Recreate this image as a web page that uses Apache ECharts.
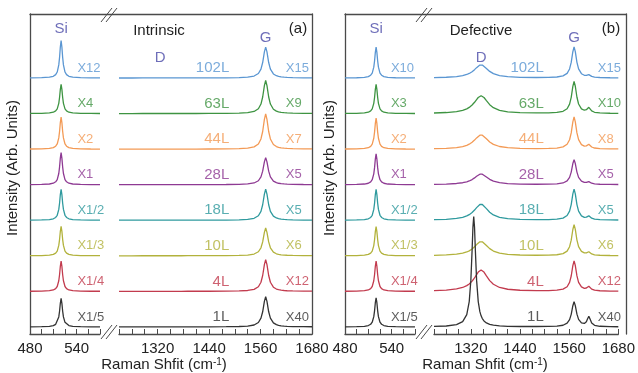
<!DOCTYPE html>
<html>
<head>
<meta charset="utf-8">
<script src="https://cdn.jsdelivr.net/npm/echarts@6.0.0/dist/echarts.min.js"></script>
<style>
html, body { margin: 0; padding: 0; background: #fff; }
#main { width: 638px; height: 373px; }
</style>
</head>
<body>
<div id="main"></div>
<script>
// layers, top trace first
const layers = ['102L', '63L', '44L', '28L', '18L', '10L', '4L', '1L']
const colors = ['#5a96d2', '#3e9442', '#f39a55', '#8e3a93', '#2f9a9e', '#b2b23c', '#c23b4e', '#333333']

// (a) intrinsic
const siMultA = ['X12', 'X4', 'X2', 'X1', 'X1/2', 'X1/3', 'X1/4', 'X1/5']
const gMultA = ['X15', 'X9', 'X7', 'X5', 'X5', 'X6', 'X12', 'X40']
const siHeightA = [1.05, 0.82, 0.9, 0.9, 0.87, 0.83, 0.85, 0.8]
const gHeightA = [0.87, 0.93, 0.99, 0.76, 0.87, 0.78, 0.89, 0.85]

// (b) defective
const siMultB = ['X10', 'X3', 'X2', 'X1', 'X1/2', 'X1/3', 'X1/4', 'X1/5']
const gMultB = ['X15', 'X10', 'X8', 'X5', 'X5', 'X6', 'X12', 'X40']
const siHeightB = [0.87, 0.82, 0.87, 0.87, 0.87, 0.82, 0.85, 0.82]
const dHeightB = [0.37, 0.5, 0.4, 0.3, 0.45, 0.4, 0.6, 0]
const dSharpB = [0, 0, 0, 0, 0, 0, 0, 3.1]
const gHeightB = [0.87, 0.9, 0.9, 0.7, 0.87, 0.87, 0.85, 0.7]
const d2HeightB = [0.06, 0.14, 0.1, 0.06, 0.09, 0.08, 0.11, 0.27]

// peak profiles (relative to peak top)
const siX = [480, 495, 505, 510, 513, 515, 517, 518, 519, 520, 521, 522, 523, 525, 527, 530, 535, 545, 558, 570]
const siShape = [0.003, 0.008, 0.021, 0.046, 0.09, 0.16, 0.35, 0.55, 0.83, 1, 0.83, 0.55, 0.35, 0.16, 0.09, 0.046, 0.021, 0.008, 0.003, 0.002]

const rightX = [1230, 1260, 1285, 1300, 1310, 1316, 1320, 1323, 1325, 1327, 1329, 1331, 1334, 1338, 1342, 1345, 1348, 1352, 1358, 1366, 1375, 1390, 1410, 1440, 1480, 1510, 1530, 1545, 1555, 1561, 1565, 1569, 1572, 1575, 1579, 1583, 1590, 1597, 1602, 1605, 1608, 1611, 1615, 1622, 1635, 1660, 1680]
const gShape = [0, 0, 0.001, 0.001, 0.001, 0.001, 0.001, 0.001, 0.001, 0.001, 0.001, 0.001, 0.001, 0.001, 0.001, 0.001, 0.001, 0.001, 0.001, 0.001, 0.001, 0.002, 0.002, 0.003, 0.006, 0.013, 0.027, 0.063, 0.145, 0.288, 0.5, 0.845, 1, 0.845, 0.5, 0.288, 0.131, 0.073, 0.052, 0.043, 0.036, 0.031, 0.026, 0.019, 0.012, 0.006, 0.004]
const dShape = [0.032, 0.058, 0.109, 0.179, 0.265, 0.344, 0.414, 0.477, 0.524, 0.576, 0.633, 0.692, 0.785, 0.9, 0.98, 1, 0.98, 0.9, 0.723, 0.5, 0.329, 0.179, 0.095, 0.047, 0.024, 0.016, 0.013, 0.011, 0.01, 0.009, 0.009, 0.008, 0.008, 0.008, 0.008, 0.008, 0.007, 0.007, 0.007, 0.006, 0.006, 0.006, 0.006, 0.006, 0.005, 0.004, 0.004]
const dSharpShape = [0.004, 0.008, 0.02, 0.047, 0.111, 0.229, 0.424, 0.692, 0.9, 1, 0.9, 0.692, 0.424, 0.229, 0.138, 0.1, 0.075, 0.054, 0.036, 0.023, 0.015, 0.009, 0.005, 0.003, 0.002, 0.001, 0.001, 0, 0, 0, 0, 0, 0, 0, 0, 0, 0, 0, 0, 0, 0, 0, 0, 0, 0, 0, 0]
const d2Shape = [0, 0, 0, 0, 0, 0, 0, 0, 0, 0, 0, 0, 0, 0, 0, 0, 0, 0, 0, 0, 0, 0, 0, 0, 0.002, 0.003, 0.004, 0.006, 0.009, 0.011, 0.013, 0.016, 0.019, 0.022, 0.029, 0.039, 0.072, 0.171, 0.41, 0.735, 1, 0.735, 0.338, 0.113, 0.033, 0.009, 0.004]

// tick labels
const leftLabels = [480, 540]
const rightLabels = [1320, 1440, 1560, 1680]

const zeros = layers.map(() => 0)
const panels = [
  {
    L: 30, R: 312, si: siHeightA, g: gHeightA, d: zeros, dSharp: zeros, d2: zeros,
    siMult: siMultA, gMult: gMultA, siLabX: 541, layerLabX: 1487, gLabX: 1619, dLabX: 1326,
    title: 'Intrinsic', titleX: 159, tag: '(a)', tagX: 298, yNameX: 13, xNameX: 164
  },
  {
    L: 345, R: 626, si: siHeightB, g: gHeightB, d: dHeightB, dSharp: dSharpB, d2: d2HeightB,
    siMult: siMultB, gMult: gMultB, siLabX: 539, layerLabX: 1498, gLabX: 1630, dLabX: 1345,
    title: 'Defective', titleX: 481, tag: '(b)', tagX: 611, yNameX: 330, xNameX: 485
  }
]

const FONT = 'Liberation Sans, Arial, sans-serif'
const frameLine = { color: '#4a4a4a', width: 1.3 }
const peakColor = '#4a4aa8'

const option = {
  animation: false,
  backgroundColor: '#fff',
  textStyle: { fontFamily: FONT },
  grid: [],
  xAxis: [],
  yAxis: [],
  series: [],
  graphic: []
}

function segAxis(gridIndex, min, max, interval, labels) {
  return {
    gridIndex, type: 'value', min, max, interval,
    axisLine: { show: true, onZero: false, lineStyle: frameLine },
    axisTick: { show: true, inside: true, length: 5, lineStyle: { color: '#4a4a4a', width: 1 } },
    axisLabel: {
      show: true, margin: 7, fontSize: 15, color: '#222', fontFamily: FONT,
      formatter: v => (labels.includes(v) ? String(v) : '')
    },
    splitLine: { show: false }
  }
}

function labelSeries(xi, yi, items, position) {
  return {
    type: 'scatter', xAxisIndex: xi, yAxisIndex: yi, symbolSize: 0, silent: true, z: 5,
    label: { show: true, position, distance: 0, fontSize: 13, fontFamily: FONT },
    data: items
  }
}

panels.forEach(cfg => {
  const g = option.grid.length
  const y = option.yAxis.length
  const top = 14, height = 320

  // frame (top line, left and right sides)
  option.grid.push({ left: cfg.L, top, width: cfg.R - cfg.L, height })
  option.xAxis.push({
    gridIndex: g, type: 'value', position: 'top', min: 0, max: 1,
    axisLine: { show: true, onZero: false, lineStyle: frameLine },
    axisTick: { show: false }, axisLabel: { show: false }, splitLine: { show: false }
  })
  option.yAxis.push(
    { gridIndex: g, type: 'value', position: 'left', min: 0, max: 1,
      axisLine: { show: true, onZero: false, lineStyle: frameLine },
      axisTick: { show: false }, axisLabel: { show: false }, splitLine: { show: false } },
    { gridIndex: g, type: 'value', position: 'right', min: 0, max: 1,
      axisLine: { show: true, onZero: false, lineStyle: frameLine },
      axisTick: { show: false }, axisLabel: { show: false }, splitLine: { show: false } }
  )

  // broken x axis: Si segment and carbon segment
  option.grid.push({ left: cfg.L, top, width: 70, height })
  option.xAxis.push(segAxis(g + 1, 480, 570, 15, leftLabels))
  option.yAxis.push({ gridIndex: g + 1, type: 'value', min: -0.2, max: 8.8, show: false })

  option.grid.push({ left: cfg.L + 89, top, width: cfg.R - cfg.L - 89, height })
  option.xAxis.push(segAxis(g + 2, 1230, 1680, 30, rightLabels))
  option.yAxis.push({ gridIndex: g + 2, type: 'value', min: -0.2, max: 8.8, show: false })

  layers.forEach((name, i) => {
    const base = 7 - i
    const line = { color: colors[i], width: 1.3 }
    option.series.push({
      type: 'line', xAxisIndex: g + 1, yAxisIndex: y + 2, symbol: 'none', silent: true,
      lineStyle: line,
      data: siX.map((x, k) => [x, base + cfg.si[i] * siShape[k]])
    })
    option.series.push({
      type: 'line', xAxisIndex: g + 2, yAxisIndex: y + 3, symbol: 'none', silent: true,
      lineStyle: line,
      data: rightX.map((x, k) => [x, base + cfg.g[i] * gShape[k] + cfg.d[i] * dShape[k] +
        cfg.dSharp[i] * dSharpShape[k] + cfg.d2[i] * d2Shape[k]])
    })
  })

  // multipliers and layer numbers
  option.series.push(labelSeries(g + 1, y + 2, layers.map((n, i) => ({
    value: [cfg.siLabX, 7 - i + 0.28], label: { formatter: cfg.siMult[i], color: colors[i] }
  })), 'right'))
  option.series.push(labelSeries(g + 2, y + 3, layers.map((n, i) => ({
    value: [cfg.layerLabX, 7 - i + 0.28], label: { formatter: n, color: colors[i], fontSize: 15 }
  })), 'left'))
  option.series.push(labelSeries(g + 2, y + 3, layers.map((n, i) => ({
    value: [cfg.gLabX, 7 - i + 0.28], label: { formatter: cfg.gMult[i], color: colors[i] }
  })), 'right'))

  // peak names
  const peakLabel = { color: peakColor, fontSize: 15 }
  option.series.push(labelSeries(g + 1, y + 2, [
    { value: [520, 8.38], label: Object.assign({ formatter: 'Si' }, peakLabel) }
  ], 'inside'))
  option.series.push(labelSeries(g + 2, y + 3, [
    { value: [1572, 8.12], label: Object.assign({ formatter: 'G' }, peakLabel) },
    { value: [cfg.dLabX, 7.58], label: Object.assign({ formatter: 'D' }, peakLabel) }
  ], 'inside'))

  // texts
  const txt = (x, yy, text, extra) => ({
    type: 'text', x, y: yy, z: 10, silent: true,
    style: Object.assign({ text, fill: '#222', fontSize: 15, fontFamily: FONT,
      align: 'center', verticalAlign: 'middle' }, extra || {})
  })
  option.graphic.push(txt(cfg.titleX, 31, cfg.title))
  option.graphic.push(txt(cfg.tagX, 29, cfg.tag))
  option.graphic.push(Object.assign(txt(cfg.yNameX, 168, 'Intensity (Arb. Units)'), { rotation: Math.PI / 2 }))
  option.graphic.push(txt(cfg.xNameX, 365, 'Raman Shfit (cm{sup|-1})', {
    rich: { sup: { fontSize: 10, fontFamily: FONT, fill: '#222', verticalAlign: 'top' } }
  }))

  // break marks
  const xb = cfg.L + 79
  ;[15, 332].forEach(yc => {
    ;[-8, -3].forEach(dx => {
      option.graphic.push({
        type: 'line', z: 10, silent: true,
        shape: { x1: xb + dx, y1: yc + 7, x2: xb + dx + 11, y2: yc - 7 },
        style: { stroke: '#4a4a4a', lineWidth: 1 }
      })
    })
  })
})

const chart = echarts.init(document.getElementById('main'), null, { renderer: 'canvas' })
chart.setOption(option)
</script>
</body>
</html>
